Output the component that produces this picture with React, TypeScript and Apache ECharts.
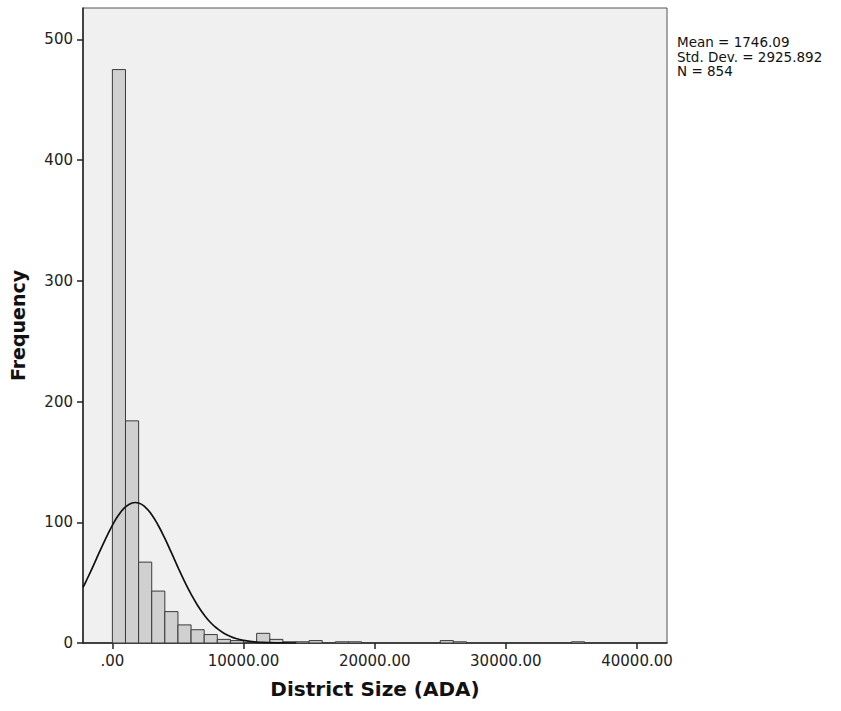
import React, { useEffect, useRef } from "react";
import * as echarts from "echarts";

// Histogram bins (lower edge of each 1000-wide bin) and counts
const binStarts = [0, 1000, 2000, 3000, 4000, 5000, 6000, 7000, 8000, 9000, 11000, 12000, 13000, 14000, 15000, 17000, 18000, 25000, 26000, 35000];
const binCounts = [475, 184, 67, 43, 26, 15, 11, 7, 3, 2, 8, 3, 1, 1, 2, 1, 1, 2, 1, 1];
const binWidth = 1000;

// Normal curve points
const curveX = [-2240, -2000, -1500, -1000, -500, 0, 500, 1000, 1500, 1746, 2000, 2500, 3000, 3500, 4000, 4500, 5000, 5500, 6000, 6500, 7000, 7500, 8000, 8500, 9000, 9500, 10000, 10500, 11000, 11500, 12000, 12500, 13000, 14000];
const curveY = [46.0, 51.3, 62.9, 75.0, 86.7, 97.5, 106.4, 112.7, 116.0, 116.4, 116.0, 112.6, 106.2, 97.3, 86.6, 74.8, 62.7, 51.1, 40.5, 31.1, 23.2, 16.8, 11.9, 8.1, 5.4, 3.5, 2.2, 1.3, 0.8, 0.45, 0.25, 0.14, 0.07, 0.02];

const xTicks = [0, 10000, 20000, 30000, 40000];
const yTicks = [0, 100, 200, 300, 400, 500];
const statsLines = ["Mean = 1746.09", "Std. Dev. = 2925.892", "N = 854"];

export default function App() {
  const ref = useRef<HTMLDivElement>(null);
  useEffect(() => {
    if (!ref.current) return;
    const chart = echarts.init(ref.current, undefined, { renderer: "svg" });
    const font = "DejaVu Sans";
    const barData = binStarts.map((s, i) => [s, s + binWidth, binCounts[i]]);
    chart.setOption({
      animation: false,
      backgroundColor: "#ffffff",
      grid: {
        left: 82,
        top: 8,
        right: 174,
        bottom: 68,
        show: true,
        backgroundColor: "#f0f0f0",
        borderColor: "#555555",
        borderWidth: 1,
      },
      xAxis: {
        type: "value",
        min: -2240,
        max: 42286,
        name: "District Size (ADA)",
        nameLocation: "middle",
        nameGap: 36,
        nameTextStyle: { fontFamily: font, fontWeight: "bold", fontSize: 20, color: "#111" },
        axisLine: { show: true, onZero: false, lineStyle: { color: "#222", width: 1.5 } },
        axisTick: { show: true, length: 6, customValues: xTicks, lineStyle: { color: "#222", width: 1.5 } },
        axisLabel: {
          customValues: xTicks,
          margin: 10,
          fontFamily: font,
          fontSize: 15,
          color: "#222",
          formatter: (v: number) => (v === 0 ? ".00" : v.toFixed(2)),
        },
        splitLine: { show: false },
      },
      yAxis: {
        type: "value",
        min: 0,
        max: 526,
        name: "Frequency",
        nameLocation: "middle",
        nameGap: 56,
        nameTextStyle: { fontFamily: font, fontWeight: "bold", fontSize: 19, color: "#111" },
        axisLine: { show: true, onZero: false, lineStyle: { color: "#222", width: 1.5 } },
        axisTick: { show: true, length: 6, customValues: yTicks, lineStyle: { color: "#222", width: 1.5 } },
        axisLabel: { customValues: yTicks, margin: 10, fontFamily: font, fontSize: 15, color: "#222" },
        splitLine: { show: false },
      },
      series: [
        {
          type: "custom",
          data: barData,
          encode: { x: [0, 1], y: 2 },
          renderItem: (params: any, api: any) => {
            const x0 = api.value(0);
            const x1 = api.value(1);
            const c = api.value(2);
            const p0 = api.coord([x0, c]);
            const p1 = api.coord([x1, 0]);
            return {
              type: "rect",
              shape: { x: p0[0], y: p0[1], width: p1[0] - p0[0], height: p1[1] - p0[1] },
              style: { fill: "#d0d0d0", stroke: "#3a3a3a", lineWidth: 1 },
            };
          },
          z: 2,
        },
        {
          type: "line",
          data: curveX.map((x, i) => [x, curveY[i]]),
          smooth: true,
          showSymbol: false,
          lineStyle: { color: "#111", width: 1.7 },
          z: 3,
        },
      ],
      graphic: statsLines.map((t, i) => ({
        type: "text",
        left: 677,
        top: 35 + i * 14.5,
        style: {
          text: t,
          fontFamily: font,
          fontSize: 13.5,
          fill: "#111",
        },
      })),
    });
    return () => chart.dispose();
  }, []);
  return <div ref={ref} style={{ position: "fixed", left: 0, top: 0, width: 841, height: 711 }} />;
}
